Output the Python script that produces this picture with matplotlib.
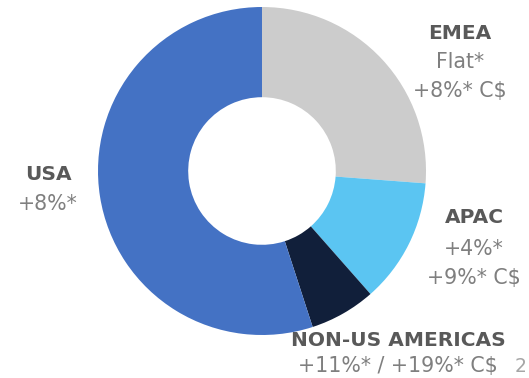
import matplotlib.pyplot as plt

# revenue share by region (percent of total)
regions = ["EMEA", "APAC", "NON-US AMERICAS", "USA"]
shares = [26.2, 12.3, 6.5, 55.0]
growth = [["Flat*", "+8%* C$"], ["+4%*", "+9%* C$"], ["+11%* / +19%* C$"], ["+8%*"]]
colors = ["#CCCCCC", "#5BC5F2", "#111F3A", "#4472C4"]

W, H = 529, 378
fig = plt.figure(figsize=(W / 100, H / 100), dpi=100)

# donut centred at (262, 171) px, outer radius 164 px
cx, cy, r = 262, 171, 164
ax = fig.add_axes([(cx - r) / W, (H - cy - r) / H, 2 * r / W, 2 * r / H])
ax.pie(shares, colors=colors, startangle=90, counterclock=False,
       radius=1, wedgeprops=dict(width=0.55, linewidth=0))
ax.set_xlim(-1, 1)
ax.set_ylim(-1, 1)
ax.set_aspect("equal")
ax.axis("off")


def label(x, y, txt, **kw):
    # x, y in px from top-left, y is the text baseline
    fig.text(x / W, 1 - y / H, txt, ha="center", va="baseline", **kw)


title_kw = dict(fontsize=14.5, fontweight="bold", color="#595959")
sub_kw = dict(fontsize=14.8, color="#7F7F7F")

# x centre, title baseline, baselines of the growth lines
pos = {
    "EMEA": (460, 39, [68, 97]),
    "APAC": (474, 223, [255, 284]),
    "NON-US AMERICAS": (398, 346, [372]),
    "USA": (48, 180, [210]),
}
for name, lines in zip(regions, growth):
    x, ty, ys = pos[name]
    label(x, ty, name, **title_kw)
    for txt, y in zip(lines, ys):
        label(x, y, txt, **sub_kw)

# page number at the right edge
fig.text(515 / W, 1 - 372 / H, "2", ha="left", va="baseline",
         fontsize=13.5, color="#A6A6A6")

fig.savefig("out.png", dpi=100)
